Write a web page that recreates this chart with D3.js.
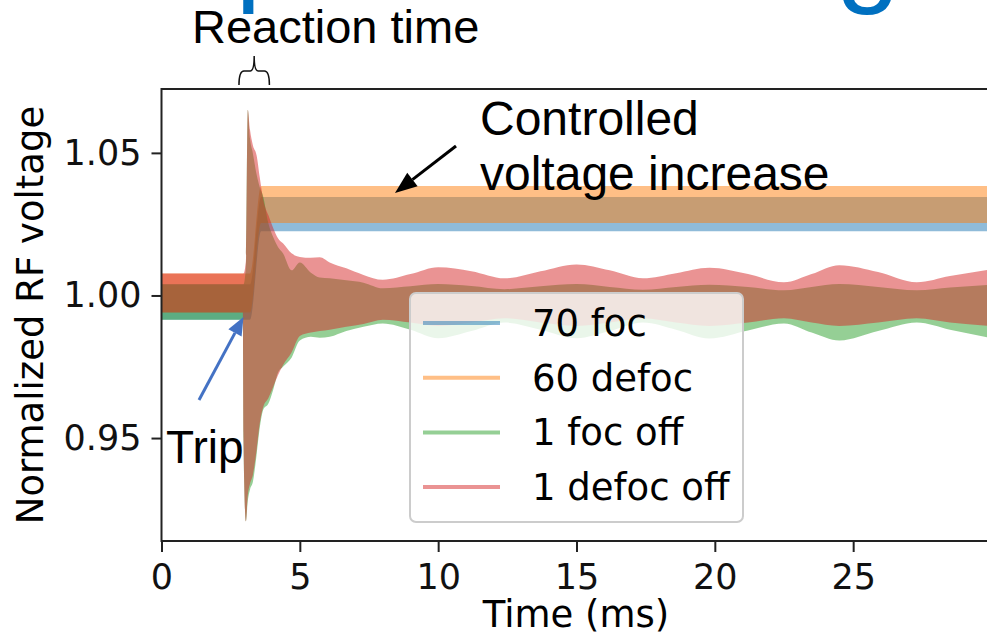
<!DOCTYPE html>
<html>
<head>
<meta charset="utf-8">
<script src="https://cdn.jsdelivr.net/npm/d3@7"></script>
<style>
  body { margin: 0; background: #fff; }
  svg { display: block; }
</style>
</head>
<body>
<div id="my_dataviz"></div>
<script>
// time grid (ms) used for the two "off" cases
var tOff = [0, 2.94, 2.96, 3.05, 3.12, 3.2, 3.3, 3.44, 3.55, 3.68, 3.86, 4.04, 4.21, 4.39, 4.7, 5.0,
    5.4, 5.72, 6.08, 6.68, 7.3, 8.0, 9.0, 10.0, 11.2, 12.4, 13.7, 15.0, 16.2, 17.4, 18.6, 19.8,
    21.2, 22.5, 23.5, 24.5, 25.9, 27.3, 28.5, 30]

// envelopes of the fast RF oscillation
var redHi = [1.0077, 1.0077, 1.0077, 1.012, 1.0651, 1.058, 1.0528, 1.049, 1.0415, 1.0335, 1.0282,
    1.0236, 1.0201, 1.0183, 1.0148, 1.0135, 1.0132, 1.0134, 1.0116, 1.0095, 1.0072, 1.0055, 1.0075,
    1.0099, 1.0085, 1.006, 1.0085, 1.0109, 1.0088, 1.006, 1.0078, 1.0097, 1.0075, 1.0046, 1.0075,
    1.0106, 1.0082, 1.0046, 1.0068, 1.0092]
var redLo = [0.994, 0.994, 0.952, 0.9208, 0.93, 0.934, 0.937, 0.946, 0.955, 0.961, 0.964, 0.968,
    0.972, 0.9755, 0.98, 0.9858, 0.987, 0.9875, 0.988, 0.989, 0.99, 0.9915, 0.9905, 0.9893, 0.9905,
    0.992, 0.9905, 0.9893, 0.9905, 0.992, 0.9905, 0.9893, 0.9905, 0.992, 0.9905, 0.9893, 0.9905,
    0.992, 0.9905, 0.9893]
var greenHi = [1.0039, 1.0039, 1.0039, 1.01, 1.0651, 1.055, 1.05, 1.0423, 1.038, 1.0345, 1.0254,
    1.0204, 1.017, 1.0148, 1.0088, 1.0116, 1.008, 1.0063, 1.006, 1.0053, 1.0045, 1.0025, 1.0032,
    1.004, 1.0033, 1.0022, 1.0032, 1.004, 1.003, 1.002, 1.003, 1.0038, 1.003, 1.0018, 1.003, 1.004,
    1.003, 1.0018, 1.0028, 1.0038]
var greenLo = [0.9915, 0.9915, 0.95, 0.9208, 0.928, 0.932, 0.9345, 0.9444, 0.9535, 0.96, 0.962,
    0.967, 0.9729, 0.975, 0.9782, 0.9842, 0.9855, 0.9852, 0.9855, 0.9875, 0.989, 0.9902, 0.988,
    0.985, 0.9875, 0.9905, 0.988, 0.985, 0.9875, 0.9905, 0.988, 0.9849, 0.9877, 0.9902, 0.987,
    0.9842, 0.9875, 0.9905, 0.988, 0.985]

// the two controlled cases
var tCtrl = [0, 3.2, 3.6, 30]
var blueHi = [1.0039, 1.0039, 1.0345, 1.0345]
var blueLo = [0.9915, 0.9915, 1.0225, 1.0225]
var orangeHi = [1.0077, 1.0077, 1.0384, 1.0384]
var orangeLo = [0.994, 0.994, 1.0254, 1.0254]

var seriesNames = ["70 foc", "60 defoc", "1 foc off", "1 defoc off"]
var seriesColors = ["#1f77b4", "#ff7f0e", "#2ca02c", "#d62728"]
var xTicks = [0, 5, 10, 15, 20, 25]
var yTicks = [0.95, 1.00, 1.05]

// set the dimensions and margins of the graph
var margin = { top: 89, right: 0, bottom: 99, left: 161.5 },
    width = 830,
    height = 452

var svgRoot = d3.select("#my_dataviz")
    .append("svg")
    .attr("width", 987)
    .attr("height", 640)
    .style("background", "#fff")

var svg = svgRoot.append("g")
    .attr("transform", "translate(" + margin.left + "," + margin.top + ")")

var x = d3.scaleLinear().domain([0, 30]).range([0, width])
var y = d3.scaleLinear().domain([0.9139, 1.0724]).range([height, 0])

svg.append("clipPath").attr("id", "plotclip")
    .append("rect").attr("width", width).attr("height", height)

function band(ts, hi, lo) {
    return ts.map(function(t, i) { return { t: t, hi: hi[i], lo: lo[i] } })
}

var bands = [
    band(tCtrl, blueHi, blueLo),
    band(tCtrl, orangeHi, orangeLo),
    band(tOff, greenHi, greenLo),
    band(tOff, redHi, redLo)
]

var area = d3.area()
    .x(function(d) { return x(d.t) })
    .y0(function(d) { return y(d.lo) })
    .y1(function(d) { return y(d.hi) })
    .curve(d3.curveMonotoneX)

svg.append("g").attr("clip-path", "url(#plotclip)")
    .selectAll("path")
    .data(bands)
    .enter()
    .append("path")
    .attr("d", area)
    .attr("fill", function(d, i) { return seriesColors[i] })
    .attr("fill-opacity", 0.5)

// axes
var tickFont = "'DejaVu Sans', sans-serif"
var xAxis = svg.append("g")
    .attr("transform", "translate(0," + height + ")")
    .call(d3.axisBottom(x).tickValues(xTicks).tickFormat(d3.format("d")).tickSize(11).tickSizeOuter(0).tickPadding(12))
var yAxis = svg.append("g")
    .call(d3.axisLeft(y).tickValues(yTicks).tickFormat(d3.format(".2f")).tickSize(10).tickSizeOuter(0).tickPadding(10))

;[xAxis, yAxis].forEach(function(a) {
    a.select(".domain").remove()
    a.selectAll(".tick line").attr("stroke", "#222").attr("stroke-width", 2)
    a.selectAll(".tick text").attr("fill", "#111").style("font-family", tickFont).style("font-size", "35px")
})

// spines
svg.append("rect")
    .attr("width", width)
    .attr("height", height)
    .attr("fill", "none")
    .attr("stroke", "#222")
    .attr("stroke-width", 2)

// axis labels
svgRoot.append("text")
    .attr("x", 576)
    .attr("y", 627)
    .attr("text-anchor", "middle")
    .style("font-family", tickFont)
    .style("font-size", "37px")
    .text("Time (ms)")

svgRoot.append("text")
    .attr("transform", "translate(43,315) rotate(-90)")
    .attr("text-anchor", "middle")
    .style("font-family", tickFont)
    .style("font-size", "37px")
    .text("Normalized RF voltage")

// legend
var legend = svgRoot.append("g").attr("transform", "translate(410,293)")
legend.append("rect")
    .attr("width", 333)
    .attr("height", 229)
    .attr("rx", 6)
    .attr("fill", "#fff")
    .attr("fill-opacity", 0.8)
    .attr("stroke", "#cccccc")
    .attr("stroke-width", 2)

var rows = legend.selectAll(".row")
    .data(seriesNames)
    .enter()
    .append("g")
    .attr("transform", function(d, i) { return "translate(0," + (30 + i * 54.7) + ")" })
rows.append("line")
    .attr("x1", 13).attr("x2", 90)
    .attr("stroke", function(d, i) { return seriesColors[i] })
    .attr("stroke-opacity", 0.5)
    .attr("stroke-width", 4)
rows.append("text")
    .attr("x", 122)
    .attr("y", 13)
    .style("font-family", tickFont)
    .style("font-size", "37px")
    .text(function(d) { return d })

// slide annotations
var noteFont = "'Liberation Sans', Arial, sans-serif"

// descenders of the slide title, cut by the top edge
svgRoot.append("text").attr("x", 235.5).attr("y", -10)
    .attr("fill", "#0070C0").style("font-family", noteFont).style("font-size", "115px").text("p")
svgRoot.append("text").attr("x", 836).attr("y", -9)
    .attr("fill", "#0070C0").style("font-family", noteFont).style("font-size", "115px").text("g")

svgRoot.append("text")
    .attr("x", 192).attr("y", 43)
    .style("font-family", noteFont).style("font-size", "47px")
    .text("Reaction time")

// brace over the reaction time
var bx0 = margin.left + x(2.8), bx1 = margin.left + x(3.9), bxm = (bx0 + bx1) / 2
svgRoot.append("path")
    .attr("d", "M" + bx0 + ",85 Q" + bx0 + ",71 " + (bx0 + 5) + ",71 L" + (bxm - 4) + ",71 Q" + bxm + ",71 " + bxm + ",56" +
        " Q" + bxm + ",71 " + (bxm + 4) + ",71 L" + (bx1 - 5) + ",71 Q" + bx1 + ",71 " + bx1 + ",85")
    .attr("fill", "none")
    .attr("stroke", "#111")
    .attr("stroke-width", 1.5)

svgRoot.append("text")
    .attr("x", 480).attr("y", 135)
    .style("font-family", noteFont).style("font-size", "48px")
    .text("Controlled")
svgRoot.append("text")
    .attr("x", 480).attr("y", 190)
    .style("font-family", noteFont).style("font-size", "48px")
    .text("voltage increase")

svgRoot.append("text")
    .attr("x", 166).attr("y", 463)
    .style("font-family", noteFont).style("font-size", "46px")
    .text("Trip")

function arrow(x1, y1, x2, y2, color, headLen, headW) {
    var ang = Math.atan2(y2 - y1, x2 - x1)
    var bx = x2 - headLen * Math.cos(ang), by = y2 - headLen * Math.sin(ang)
    var px = -Math.sin(ang) * headW / 2, py = Math.cos(ang) * headW / 2
    svgRoot.append("line")
        .attr("x1", x1).attr("y1", y1).attr("x2", bx).attr("y2", by)
        .attr("stroke", color).attr("stroke-width", 3)
    svgRoot.append("path")
        .attr("d", "M" + x2 + "," + y2 + " L" + (bx + px) + "," + (by + py) + " L" + (bx - px) + "," + (by - py) + " Z")
        .attr("fill", color)
}
arrow(456, 146, 395, 193, "#000", 22, 17)
arrow(199, 400, 243.5, 317, "#4472C4", 18, 15)
</script>
</body>
</html>
